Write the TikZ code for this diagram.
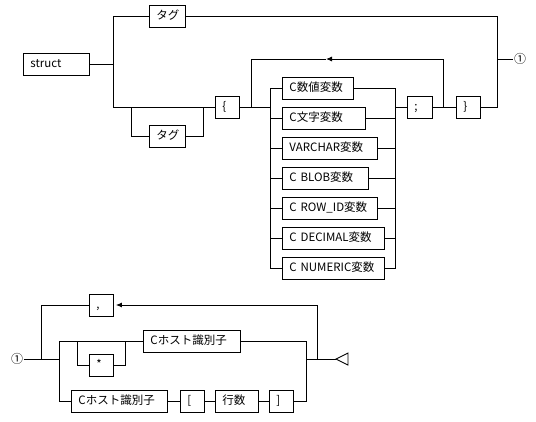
\documentclass[tikz,border=0pt]{standalone}
\usepackage{fontspec}
\setmainfont{Noto Sans CJK JP}
\usetikzlibrary{arrows.meta}
\begin{document}
\begin{tikzpicture}[x=1pt,y=-1pt,line width=0.9pt,
  bx/.style={draw,anchor=west,minimum height=22pt,inner xsep=7pt,inner ysep=0pt,
    align=left,text height=8.5pt,text depth=2.5pt,font=\fontsize{11.5}{12}\selectfont},
  circ/.style={inner sep=0.3pt,font=\fontsize{12}{12}\selectfont},
  arr/.style={-{Latex[length=6pt,width=5pt]}}]
\useasboundingbox (0,0) rectangle (536,421);
% ---------------- top diagram
\node[bx,text width=52pt] (struct) at (23,64) {struct};
\node[bx,text width=22pt] (tag1) at (149,16) {タグ};
\node[bx,text width=22pt] (tag2) at (149,136) {タグ};
\node[bx,text width=10pt] (lbrace) at (215,107) {\{};
\node[bx,text width=57pt] (v1) at (282,88) {C数値変数};
\node[bx,text width=69pt] (v2) at (282,118) {C文字変数};
\node[bx,text width=81pt] (v3) at (282,148) {VARCHAR変数};
\node[bx,text width=72pt] (v4) at (282,178) {C BLOB変数};
\node[bx,text width=81pt] (v5) at (282,208) {C ROW\_ID変数};
\node[bx,text width=88pt] (v6) at (282,238) {C DECIMAL変数};
\node[bx,text width=88pt] (v7) at (282,268) {C NUMERIC変数};
\node[bx,text width=11pt] (semi) at (407,107) {;};
\node[bx,text width=10pt] (rbrace) at (456,107) {\}};
\node[circ] (c1) at (520,59) {①};

\coordinate (a1) at (113,64);
\coordinate (a1t) at (113,16);
\coordinate (a1b) at (113,107);
\coordinate (b1t) at (497,16);
\coordinate (b1m) at (497,59);
\coordinate (b1b) at (497,107);
\coordinate (t1) at (131,107);
\coordinate (t1b) at (131,136);
\coordinate (t2) at (203,107);
\coordinate (t2b) at (203,136);
\coordinate (l1) at (251,107);
\coordinate (l1t) at (251,59);
\coordinate (l2) at (443,107);
\coordinate (l2t) at (443,59);
\coordinate (lar) at (326,59);
\coordinate (rl) at (270,107);
\coordinate (rlt) at (270,88);
\coordinate (rlb) at (270,268);
\coordinate (rr) at (395,107);
\coordinate (rrt) at (395,88);
\coordinate (rrb) at (395,268);

\draw (struct.east) -- (a1);
\draw (tag1.west) -| (a1t) -- (a1b) -- (lbrace.west);
\draw (tag1.east) -- (b1t) -- (b1b) -| (rbrace.east);
\draw (b1m) -- (c1.west);
\draw (t1) -- (t1b) -- (tag2.west);
\draw (tag2.east) -- (t2b) -- (t2);
\draw (lbrace.east) -- (rl);
\draw (l1) -- (l1t) -- (lar);
\draw[arr] (l2) -- (l2t) -- (lar);
\draw (v1.west) -- (rlt) -- (rlb) -- (v7.west);
\draw (v2.west) -- (rl |- v2.west);
\draw (v3.west) -- (rl |- v3.west);
\draw (v4.west) -- (rl |- v4.west);
\draw (v5.west) -- (rl |- v5.west);
\draw (v6.west) -- (rl |- v6.west);
\draw (v1.east) -- (rrt) -- (rrb) -- (v7.east);
\draw (v2.east) -- (rr |- v2.east);
\draw (v3.east) -- (rr |- v3.east);
\draw (v4.east) -- (rr |- v4.east);
\draw (v5.east) -- (rr |- v5.east);
\draw (v6.east) -- (rr |- v6.east);
\draw (rr) -- (semi.west);
\draw (semi.east) -- (rbrace.west);

% ---------------- bottom diagram
\node[circ] (c2) at (17,359) {①};
\node[bx,text width=10pt] (comma) at (89,305) {,};
\node[bx,text width=10pt] (star) at (89,365) {*};
\node[bx,text width=83pt] (host1) at (143,341) {Cホスト識別子};
\node[bx,text width=82pt] (host2) at (71,401) {Cホスト識別子};
\node[bx,text width=10pt] (lbrack) at (180,401) {[};
\node[bx,text width=29pt] (rows) at (215,401) {行数};
\node[bx,text width=10pt] (rbrack) at (269,401) {]};

\coordinate (m1) at (41,359);
\coordinate (m1t) at (41,305);
\coordinate (m2) at (59,359);
\coordinate (m2t) at (59,341);
\coordinate (m2b) at (59,401);
\coordinate (s1) at (77,341);
\coordinate (s1b) at (77,365);
\coordinate (s2) at (125,341);
\coordinate (s2b) at (125,365);
\coordinate (n1t) at (306,341);
\coordinate (n1) at (306,359);
\coordinate (n1b) at (306,401);
\coordinate (n2) at (317,359);
\coordinate (n2t) at (317,305);
\coordinate (endtip) at (336,359);

\draw (c2.east) -- (m2);
\draw (m1) -- (m1t) -- (comma.west);
\draw[arr] (n2) -- (n2t) -- ([xshift=2pt]comma.east);
\draw (host1.west) -- (m2t) -- (m2b) -- (host2.west);
\draw (s1) -- (s1b) -- (star.west);
\draw (star.east) -- (s2b) -- (s2);
\draw (host1.east) -- (n1t) -- (n1b) -- (rbrack.east);
\draw (host2.east) -- (lbrack.west);
\draw (lbrack.east) -- (rows.west);
\draw (rows.east) -- (rbrack.west);
\draw (n1) -- (endtip);
\draw[fill=white] (endtip) -- (348,353) -- (348,365) -- cycle;
\end{tikzpicture}
\end{document}
